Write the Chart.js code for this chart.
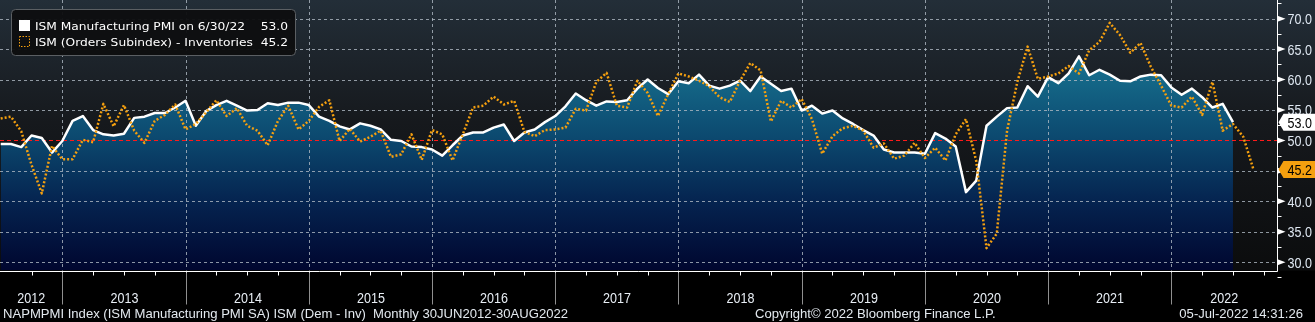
<!DOCTYPE html>
<html lang="en">
<head>
<meta charset="UTF-8">
<title>ISM Manufacturing PMI vs Orders - Inventories</title>
<script src="https://cdn.jsdelivr.net/npm/chart.js"></script>
<style>
  html, body { margin: 0; padding: 0; background: #000; }
  #wrap { width: 1315px; height: 322px; position: relative; }
</style>
</head>
<body>
<div id="wrap"><canvas id="pmiChart"></canvas></div>
<script>
// Monthly observations, first one is Jun 2012 (index 0)
const firstYear = 2012;

// ISM Manufacturing PMI, Jun 2012 .. Jun 2022
const pmi = [
  49.4, 49.4, 48.9, 50.8, 50.4, 48.0, 49.9,
  53.2, 54.0, 51.7, 51.0, 50.8, 51.1, 53.7, 53.9, 54.5, 54.5, 55.4, 56.5,
  52.4, 54.8, 55.8, 56.5, 55.7, 54.9, 55.0, 56.1, 55.8, 56.2, 56.2, 55.8,
  53.9, 53.2, 52.3, 51.8, 52.8, 52.4, 51.8, 50.1, 49.9, 49.0, 48.9, 48.5,
  47.5, 49.2, 50.8, 51.3, 51.3, 52.1, 52.6, 49.9, 51.3, 51.8, 53.0, 54.0,
  55.6, 57.7, 56.6, 55.7, 56.4, 56.3, 56.6, 58.5, 60.0, 58.6, 57.6, 59.7,
  59.4, 60.8, 59.0, 58.5, 59.0, 59.8, 58.1, 60.5, 59.3, 58.1, 58.5, 54.9,
  55.7, 54.4, 54.9, 53.6, 52.7, 51.7, 50.8, 48.5, 48.0, 48.0, 48.0, 47.8,
  51.2, 50.3, 49.0, 41.5, 43.4, 52.4, 53.9, 55.3, 55.4, 58.9, 57.2, 60.4,
  59.4, 61.0, 63.8, 60.7, 61.6, 60.8, 59.8, 59.7, 60.5, 60.8, 60.7, 58.7,
  57.5, 58.5, 57.1, 55.4, 56.0, 53.0
];

// ISM new orders minus inventories, Jun 2012 .. Aug 2022
const ordersLessInv = [
  53.6, 53.9, 51.5, 46.0, 41.3, 49.1, 46.9,
  46.9, 50.1, 49.7, 56.0, 52.3, 55.8, 51.6, 49.6, 53.2, 54.2, 55.9, 51.8,
  52.7, 54.6, 56.6, 54.0, 55.3, 52.4, 51.6, 49.2, 53.2, 55.7, 51.8, 53.2,
  55.5, 56.6, 49.9, 51.9, 49.8, 50.6, 51.6, 47.3, 47.7, 51.0, 46.8, 51.7,
  51.0, 46.7, 51.0, 55.4, 55.7, 57.2, 55.9, 56.5, 51.4, 50.7, 51.7, 51.8,
  52.1, 55.2, 54.9, 59.6, 61.1, 55.7, 55.4, 59.8, 57.8, 54.0, 57.6, 61.0,
  60.5, 59.8, 58.9, 57.1, 56.3, 59.8, 62.7, 61.5, 53.1, 56.5, 55.4, 56.8,
  53.5, 47.8, 50.7, 52.0, 52.4, 51.6, 48.8, 49.5, 47.0, 47.5, 49.6, 47.1,
  48.8, 46.7, 51.0, 53.5, 46.6, 32.3, 34.7, 51.6, 59.6, 65.4, 60.1, 60.5,
  61.0, 62.2, 61.0, 64.8, 66.2, 69.3, 67.3, 64.4, 66.0, 62.1, 59.0, 55.7,
  55.4, 57.2, 54.2, 59.6, 51.6, 52.7, 50.6, 45.2
];

const yearLabels = ['2012', '2013', '2014', '2015', '2016', '2017', '2018', '2019', '2020', '2021', '2022'];
const yTicks = [30, 35, 40, 45, 50, 55, 60, 65, 70];
const yMinorTicks = [27.5, 32.5, 37.5, 42.5, 47.5, 52.5, 57.5, 62.5, 67.5, 72.5];
const seriesNames = ['ISM Manufacturing PMI on 6/30/22', 'ISM (Orders Subindex) - Inventories'];
const footerLeft = 'NAPMPMI Index (ISM Manufacturing PMI SA) ISM (Dem - Inv)  Monthly 30JUN2012-30AUG2022';
const footerMid = 'Copyright\u00A9 2022 Bloomberg Finance L.P.';
const footerRight = '05-Jul-2022 14:31:26';

const ORANGE = '#f5a00f';
const AXIS_FONT = '15px "Liberation Sans Narrow", "Liberation Sans", sans-serif';
const FOOT_FONT = '13px "Liberation Sans Narrow", "Liberation Sans", sans-serif';
const LEG_FONT = '11px "DejaVu Sans", sans-serif';

// index of December of a year -> boundary where the next year starts
const decIndex = y => (y - firstYear) * 12 + 6;

// horizontal squeeze so the text takes the given width for a sample string
function squeeze(ctx, font, sample, width) {
  ctx.save();
  ctx.font = font;
  const w = ctx.measureText(sample).width;
  ctx.restore();
  return width / w;
}

function drawText(ctx, str, x, y, font, sx, align, color) {
  ctx.save();
  ctx.font = font;
  ctx.fillStyle = color;
  ctx.textBaseline = 'alphabetic';
  ctx.textAlign = 'left';
  const w = ctx.measureText(str).width * sx;
  const left = align === 'center' ? x - w / 2 : align === 'right' ? x - w : x;
  ctx.translate(left, y);
  ctx.scale(sx, 1);
  ctx.fillText(str, 0, 0);
  ctx.restore();
}

const frame = {
  id: 'frame',
  beforeDraw(chart) {
    const { ctx, chartArea: a, width, height } = chart;
    ctx.save();
    ctx.fillStyle = '#000';
    ctx.fillRect(0, 0, width, height);
    const g = ctx.createLinearGradient(0, 0, 0, a.bottom);
    g.addColorStop(0, '#232e38');
    g.addColorStop(0.45, '#16191d');
    g.addColorStop(1, '#0b0c0d');
    ctx.fillStyle = g;
    ctx.fillRect(0, 0, width, a.bottom);
    ctx.restore();
  },
  // grid sits on top of the area fill but under the lines
  beforeDatasetsDraw(chart) {
    const { ctx, chartArea: a, scales: { x, y } } = chart;
    ctx.save();
    ctx.lineWidth = 1;
    ctx.setLineDash([3, 3]);
    ctx.strokeStyle = 'rgba(175,185,195,0.8)';
    yTicks.forEach(v => {
      if (v === 50) return;
      const py = Math.round(y.getPixelForValue(v)) + 0.5;
      ctx.beginPath(); ctx.moveTo(a.left, py); ctx.lineTo(a.right, py); ctx.stroke();
    });
    for (let yr = firstYear; yr < firstYear + yearLabels.length - 1; yr++) {
      const px = Math.round(x.getPixelForValue(decIndex(yr))) + 0.5;
      ctx.beginPath(); ctx.moveTo(px, a.top); ctx.lineTo(px, a.bottom); ctx.stroke();
    }
    ctx.setLineDash([4, 3]);
    ctx.strokeStyle = '#ff1a1a';
    const p50 = Math.round(y.getPixelForValue(50)) + 0.5;
    ctx.beginPath(); ctx.moveTo(a.left, p50); ctx.lineTo(a.right, p50); ctx.stroke();
    ctx.restore();
  },
  afterDraw(chart) {
    const { ctx, chartArea: a, scales: { x, y }, width } = chart;
    const sxAxis = squeeze(ctx, AXIS_FONT, '70.0', 24.4);
    const sxFoot = squeeze(ctx, FOOT_FONT, footerLeft, 565);
    const sxLeg = squeeze(ctx, LEG_FONT, seriesNames[0], 210);
    const axisX = Math.round(a.right) + 0.5;
    const axisY = Math.round(a.bottom) + 0.5;
    ctx.save();

    // axis lines
    ctx.strokeStyle = '#ffffff';
    ctx.lineWidth = 1;
    ctx.beginPath();
    ctx.moveTo(axisX, 0); ctx.lineTo(axisX, axisY); ctx.lineTo(0, axisY);
    ctx.stroke();

    // right axis ticks and labels
    ctx.fillStyle = '#ffffff';
    yMinorTicks.forEach(v => {
      const py = Math.round(y.getPixelForValue(v)) + 0.5;
      ctx.beginPath(); ctx.moveTo(axisX, py); ctx.lineTo(axisX + 4, py); ctx.stroke();
    });
    yTicks.forEach(v => {
      const py = y.getPixelForValue(v);
      ctx.beginPath();
      ctx.moveTo(axisX, py - 3); ctx.lineTo(axisX + 8, py); ctx.lineTo(axisX, py + 3);
      ctx.closePath(); ctx.fill();
      drawText(ctx, v.toFixed(1), axisX + 10, py + 5.5, AXIS_FONT, sxAxis, 'left', '#dfe8f2');
    });

    // bottom axis: quarter ticks, year separators, year labels
    for (let i = 3; x.getPixelForValue(i) < a.right; i += 3) {
      const px = Math.round(x.getPixelForValue(i)) + 0.5;
      ctx.beginPath(); ctx.moveTo(px, axisY); ctx.lineTo(px, axisY + 4); ctx.stroke();
    }
    ctx.strokeStyle = '#8f8f8f';
    const bounds = [x.getPixelForValue(x.min)];
    for (let yr = firstYear; yr < firstYear + yearLabels.length - 1; yr++) {
      const px = Math.round(x.getPixelForValue(decIndex(yr))) + 0.5;
      bounds.push(px);
      ctx.beginPath(); ctx.moveTo(px, axisY + 1); ctx.lineTo(px, axisY + 33); ctx.stroke();
    }
    bounds.push(a.right);
    yearLabels.forEach((lab, k) => {
      drawText(ctx, lab, (bounds[k] + bounds[k + 1]) / 2, axisY + 31, AXIS_FONT, sxAxis, 'center', '#e8eef5');
    });

    // last-value tags on the axis
    const tag = (val, fill) => {
      const py = y.getPixelForValue(val);
      ctx.fillStyle = fill;
      ctx.beginPath();
      ctx.moveTo(axisX + 1, py);
      ctx.lineTo(axisX + 6, py - 8.5);
      ctx.lineTo(width, py - 8.5);
      ctx.lineTo(width, py + 8.5);
      ctx.lineTo(axisX + 6, py + 8.5);
      ctx.closePath();
      ctx.fill();
      drawText(ctx, val.toFixed(1), axisX + 10, py + 5.5, AXIS_FONT, sxAxis, 'left', '#000000');
    };
    const lastPmi = pmi[pmi.length - 1];
    const lastOi = ordersLessInv[ordersLessInv.length - 1];
    tag(lastPmi, '#ffffff');
    tag(lastOi, ORANGE);

    // legend box
    ctx.fillStyle = 'rgba(14,15,16,0.96)';
    ctx.strokeStyle = '#5b5f63';
    ctx.beginPath();
    ctx.roundRect(11.5, 9.5, 284, 46, 4);
    ctx.fill(); ctx.stroke();
    ctx.fillStyle = '#ffffff';
    ctx.fillRect(19, 20, 11, 11);
    ctx.strokeStyle = ORANGE;
    ctx.setLineDash([1.5, 1.5]);
    ctx.strokeRect(19.5, 36.5, 10, 10);
    ctx.setLineDash([]);
    drawText(ctx, seriesNames[0], 35, 29.5, LEG_FONT, sxLeg, 'left', '#ffffff');
    drawText(ctx, lastPmi.toFixed(1), 288, 29.5, LEG_FONT, sxLeg, 'right', '#ffffff');
    drawText(ctx, seriesNames[1], 35, 45.5, LEG_FONT, sxLeg, 'left', '#ffffff');
    drawText(ctx, lastOi.toFixed(1), 288, 45.5, LEG_FONT, sxLeg, 'right', '#ffffff');

    // footer
    drawText(ctx, footerLeft, 3, 318, FOOT_FONT, sxFoot, 'left', '#e3e9ef');
    drawText(ctx, footerMid, 755, 318, FOOT_FONT, sxFoot, 'left', '#e3e9ef');
    drawText(ctx, footerRight, 1303, 318, FOOT_FONT, sxFoot, 'right', '#e3e9ef');
    ctx.restore();
  }
};

const ctx = document.getElementById('pmiChart').getContext('2d');
new Chart(ctx, {
  type: 'line',
  data: {
    datasets: [
      {
        label: seriesNames[1],
        data: ordersLessInv.map((v, i) => ({ x: i, y: v })),
        borderColor: ORANGE,
        borderWidth: 2.5,
        borderDash: [2, 2],
        pointRadius: 0,
        fill: false,
        order: 0
      },
      {
        label: seriesNames[0],
        data: pmi.map((v, i) => ({ x: i, y: v })),
        borderColor: '#ffffff',
        borderWidth: 2.5,
        pointRadius: 0,
        fill: 'start',
        backgroundColor: (c) => {
          const area = c.chart.chartArea;
          if (!area) return 'rgba(0,0,0,0)';
          const g = c.chart.ctx.createLinearGradient(0, area.top, 0, area.bottom);
          g.addColorStop(0, '#1f87a4');
          g.addColorStop(0.25, '#166d8c');
          g.addColorStop(0.5, '#0c4a70');
          g.addColorStop(0.75, '#05234f');
          g.addColorStop(1, '#00062f');
          return g;
        },
        order: 1
      }
    ]
  },
  options: {
    responsive: true,
    maintainAspectRatio: false,
    animation: false,
    layout: { padding: { left: 0, top: 0, right: 38, bottom: 51.5 } },
    elements: { line: { tension: 0, borderJoinStyle: 'round' } },
    scales: {
      x: { type: 'linear', display: false, min: -0.068, max: 124.287 },
      y: { type: 'linear', display: false, min: 28.63, max: 73.06 }
    },
    plugins: {
      legend: { display: false },
      tooltip: { enabled: false },
      filler: { drawTime: 'beforeDatasetsDraw' }
    }
  },
  plugins: [frame]
});
</script>
</body>
</html>
